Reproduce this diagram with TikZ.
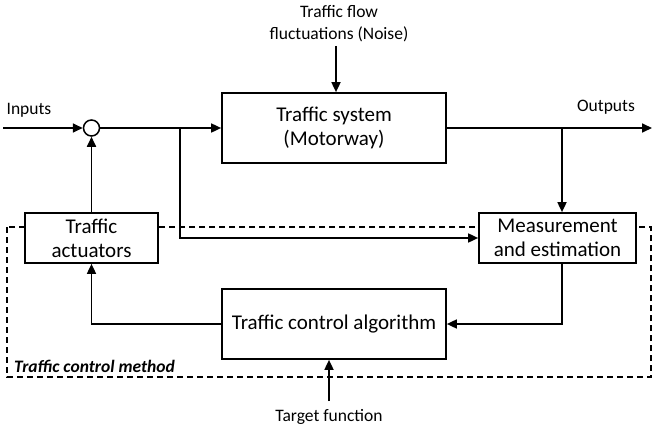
\documentclass[tikz,border=0pt]{standalone}
\usepackage{fontspec}
\setmainfont{Carlito}
\usetikzlibrary{arrows.meta,calc}
\tikzset{
  blk/.style={draw,line width=1.7pt,fill=white,align=center,inner sep=0pt,
    font=\fontsize{21}{24}\selectfont},
  lbl/.style={align=center,inner sep=0pt,font=\fontsize{17.5}{22}\selectfont},
  arr/.style={line width=1.7pt,-{Triangle[length=10pt,width=9pt]}},
  dsh/.style={line width=1.3pt,dash pattern=on 6pt off 4pt}
}
\begin{document}
\begin{tikzpicture}[x=1pt,y=-1pt]
\useasboundingbox (0,0) rectangle (653,428);
% dashed frame
\draw[dsh] (7,227) rectangle (651,377);
% blocks
\node[blk,minimum width=224pt,minimum height=70pt] (sys) at (334,128) {Traffic system\\(Motorway)};
\node[blk,minimum width=157pt,minimum height=50pt] (meas) at (557.5,238) {Measurement\\and estimation};
\node[blk,minimum width=133pt,minimum height=50pt] (act) at (91.5,238) {Traffic\\actuators};
\node[blk,minimum width=224pt,minimum height=70pt] (alg) at (334,324) {Traffic control algorithm};
\node[draw,circle,line width=1.5pt,minimum size=16pt,inner sep=0pt,fill=white] (sum) at (91.5,128) {};
% labels
\node[lbl] (inp) at (29,110) {Inputs};
\node[lbl] (outp) at (606,107) {Outputs};
\node[lbl] (noise) at (339,24) {Traffic flow\\fluctuations (Noise)};
\node[lbl] (tgt) at (329,417) {Target function};
\node[lbl,anchor=west,font=\fontsize{17.5}{22}\selectfont\bfseries\itshape] (tcm) at (14,366) {Traffic control method};
% coordinates
\coordinate (inL) at (3,128);
\coordinate (outR) at (652,128);
\coordinate (br1) at (180,128);
\coordinate (br2) at (562,128);
\coordinate (nz) at (336,46);
\coordinate (tg) at (329,401);
% connectors
\draw[arr] (inL) -- (sum.west);
\draw[arr] (sum.east) -- (sys.west);
\draw[arr] (br1) |- (meas.west);
\draw[arr] (sys.east) -- (outR);
\draw[arr] (br2) -- (br2 |- meas.north);
\draw[arr] (meas.south -| br2) |- (alg.east);
\draw[arr] (alg.west) -| (act.south);
\draw[arr] (act.north) -- (sum.south);
\draw[arr] (nz) -- (nz |- sys.north);
\draw[arr] (tg) -- (tg |- alg.south);
\end{tikzpicture}
\end{document}
